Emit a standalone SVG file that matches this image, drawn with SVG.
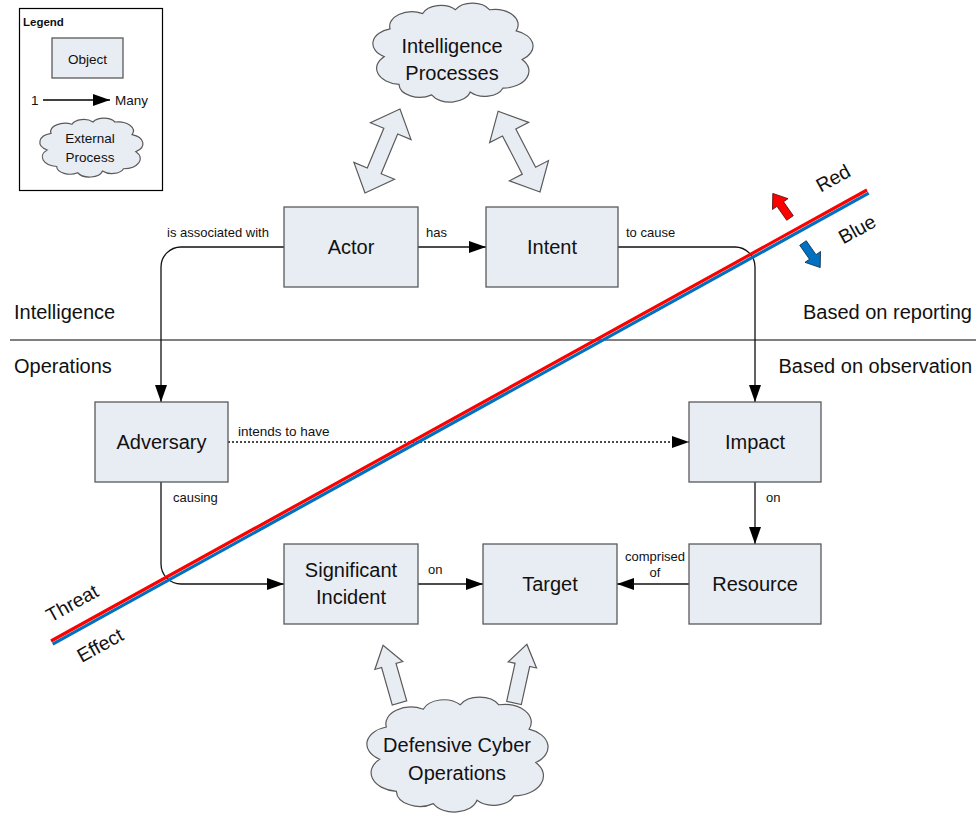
<svg xmlns="http://www.w3.org/2000/svg" xmlns:xlink="http://www.w3.org/1999/xlink" width="976" height="814" viewBox="0 0 976 814">
<style>
text{font-family:"Liberation Sans",Arial,sans-serif;fill:#111}
.box{fill:#e8ecf3;stroke:#5a5a5a;stroke-width:1.3}
.big{font-size:20px;text-anchor:middle}
.side{font-size:20px}
.small{font-size:13px}
.cloud{fill:#e8ecf3;stroke:#5a5a5a;stroke-width:1.2}
.fat{fill:#e8ecf3;stroke:#5a5a5a;stroke-width:1.2;stroke-linejoin:miter}
.conn{fill:none;stroke:#111;stroke-width:1.3}
.dot{stroke-dasharray:2 2}
.rot{font-size:19.5px;text-anchor:middle}
</style>
<defs>
<marker id="ah" markerUnits="userSpaceOnUse" markerWidth="17" markerHeight="12" refX="17" refY="6" orient="auto">
<path d="M0,0 L17,6 L0,12 Z" fill="#000"/>
</marker>
<path id="cloudShape" vector-effect="non-scaling-stroke" d="M4,55 A16,16 0 0 1 8,26 A15,15 0 0 1 30,10 A13,13 0 0 1 52,6 A13,13 0 0 1 75,6 A16,16 0 0 1 93,28 A17,17 0 0 1 97,58 A18,18 0 0 1 84,88 A13,13 0 0 1 62,92 A14,14 0 0 1 36,95 A14,14 0 0 1 14,84 A17,17 0 0 1 4,55 Z"/>
<polygon id="dbl" points="0,0 24,-22 24,-7.5 67,-7.5 67,-22 91,0 67,22 67,7.5 24,7.5 24,22"/>
<polygon id="sgl" points="0,-7.5 39,-7.5 39,-14.5 60,0 39,14.5 39,7.5 0,7.5"/>
<polygon id="small-arrow" points="0,-4 17,-4 17,-9.5 30,0 17,9.5 17,4 0,4"/>
</defs>

<rect width="976" height="814" fill="#fff"/>

<!-- Legend -->
<g id="legend">
<rect x="19.5" y="8.5" width="143" height="182" fill="#fff" stroke="#000" stroke-width="1.2"/>
<text x="23" y="26" style="font-size:11.5px;font-weight:bold">Legend</text>
<rect class="box" x="52" y="38" width="71" height="40"/>
<text x="87.5" y="63.5" class="small" style="font-size:13.5px" text-anchor="middle">Object</text>
<text x="31" y="104.5" class="small" style="font-size:13.5px">1</text>
<line x1="43" y1="100" x2="110" y2="100" stroke="#000" stroke-width="1.3" marker-end="url(#ah)"/>
<text x="115" y="105" class="small" style="font-size:13.5px">Many</text>
<use xlink:href="#cloudShape" class="cloud" transform="translate(43.3,118.6) scale(0.955,0.570)"/>
<text x="90" y="143" class="small" style="font-size:13.5px" text-anchor="middle">External</text>
<text x="90" y="161.5" class="small" style="font-size:13.5px" text-anchor="middle">Process</text>
</g>

<!-- Intelligence / Operations separator -->
<g id="separator">
<line x1="10" y1="340" x2="976" y2="340" stroke="#808080" stroke-width="2"/>
<text x="14" y="319" class="side">Intelligence</text>
<text x="14" y="373" class="side">Operations</text>
<text x="972" y="319" class="side" text-anchor="end">Based on reporting</text>
<text x="972" y="373" class="side" text-anchor="end">Based on observation</text>
</g>

<!-- Connectors -->
<g id="connectors">
<path class="conn" d="M284,247 H181 A20,20 0 0 0 161,267 V402" marker-end="url(#ah)"/>
<path class="conn" d="M418,247 H486" marker-end="url(#ah)"/>
<path class="conn" d="M618,247 H735 A20,20 0 0 1 755,267 V402" marker-end="url(#ah)"/>
<path class="conn dot" d="M228,442 H689" marker-end="url(#ah)"/>
<path class="conn" d="M161,482 V564 A20,20 0 0 0 181,584 H284" marker-end="url(#ah)"/>
<path class="conn" d="M418,584 H483" marker-end="url(#ah)"/>
<path class="conn" d="M689,584 H617" marker-end="url(#ah)"/>
<path class="conn" d="M755,482 V544" marker-end="url(#ah)"/>
<text x="167" y="236.5" class="small">is associated with</text>
<text x="426" y="236.5" class="small">has</text>
<text x="626" y="236.5" class="small">to cause</text>
<text x="238" y="435.5" class="small" style="font-size:13.5px">intends to have</text>
<text x="173" y="501.5" class="small">causing</text>
<text x="428" y="573.5" class="small">on</text>
<text x="766" y="501.5" class="small">on</text>
<text x="655" y="561" class="small" text-anchor="middle">comprised</text>
<text x="655" y="577" class="small" text-anchor="middle">of</text>
</g>

<!-- Nodes -->
<g id="actor"><rect class="box" x="284" y="207" width="134" height="80"/><text x="351" y="254" class="big">Actor</text></g>
<g id="intent"><rect class="box" x="486" y="207" width="132" height="80"/><text x="552" y="254" class="big">Intent</text></g>
<g id="adversary"><rect class="box" x="95" y="402" width="133" height="80"/><text x="161.5" y="449" class="big">Adversary</text></g>
<g id="impact"><rect class="box" x="689" y="402" width="132" height="80"/><text x="755" y="449" class="big">Impact</text></g>
<g id="significant-incident"><rect class="box" x="284" y="544" width="134" height="80"/><text x="351" y="577" class="big">Significant</text><text x="351" y="604" class="big">Incident</text></g>
<g id="target"><rect class="box" x="483" y="544" width="134" height="80"/><text x="550" y="591" class="big">Target</text></g>
<g id="resource"><rect class="box" x="689" y="544" width="132" height="80"/><text x="755" y="591" class="big">Resource</text></g>

<!-- Intelligence Processes cloud with double arrows -->
<g id="intelligence-processes">
<use xlink:href="#dbl" class="fat" transform="translate(365,193) rotate(-67.4)"/>
<use xlink:href="#dbl" class="fat" transform="translate(540,192) rotate(-117.4)"/>
<use xlink:href="#cloudShape" class="cloud" transform="translate(378.2,4) scale(1.484,0.957)"/>
<text x="452" y="53" class="big">Intelligence</text>
<text x="452" y="80" class="big">Processes</text>
</g>

<!-- Defensive Cyber Operations cloud with arrows -->
<g id="defensive-cyber-operations">
<use xlink:href="#sgl" class="fat" transform="translate(399.5,703) rotate(-105.9)"/>
<use xlink:href="#sgl" class="fat" transform="translate(514,703) rotate(-77.6)"/>
<use xlink:href="#cloudShape" class="cloud" transform="translate(372.9,698.1) scale(1.679,1.111)"/>
<text x="457" y="752" class="big">Defensive Cyber</text>
<text x="457" y="780" class="big">Operations</text>
</g>

<!-- Red / Blue boundary -->
<g id="red-blue-line">
<line x1="52.7" y1="644.1" x2="868.7" y2="193.1" stroke="#0070c0" stroke-width="3.2"/>
<line x1="51" y1="641" x2="867" y2="190" stroke="#ff0000" stroke-width="3.2"/>
<use xlink:href="#small-arrow" fill="#ff0000" stroke="#400" stroke-width="0.7" transform="translate(790,218) rotate(-125)"/>
<use xlink:href="#small-arrow" fill="#0070c0" stroke="#002040" stroke-width="0.7" transform="translate(803,243) rotate(55)"/>
<text class="rot" transform="translate(833,178) rotate(-29)" y="7">Red</text>
<text class="rot" transform="translate(857,229) rotate(-29)" y="7">Blue</text>
<text class="rot" transform="translate(72,603) rotate(-29)" y="7">Threat</text>
<text class="rot" transform="translate(100,645) rotate(-29)" y="7">Effect</text>
</g>
</svg>
